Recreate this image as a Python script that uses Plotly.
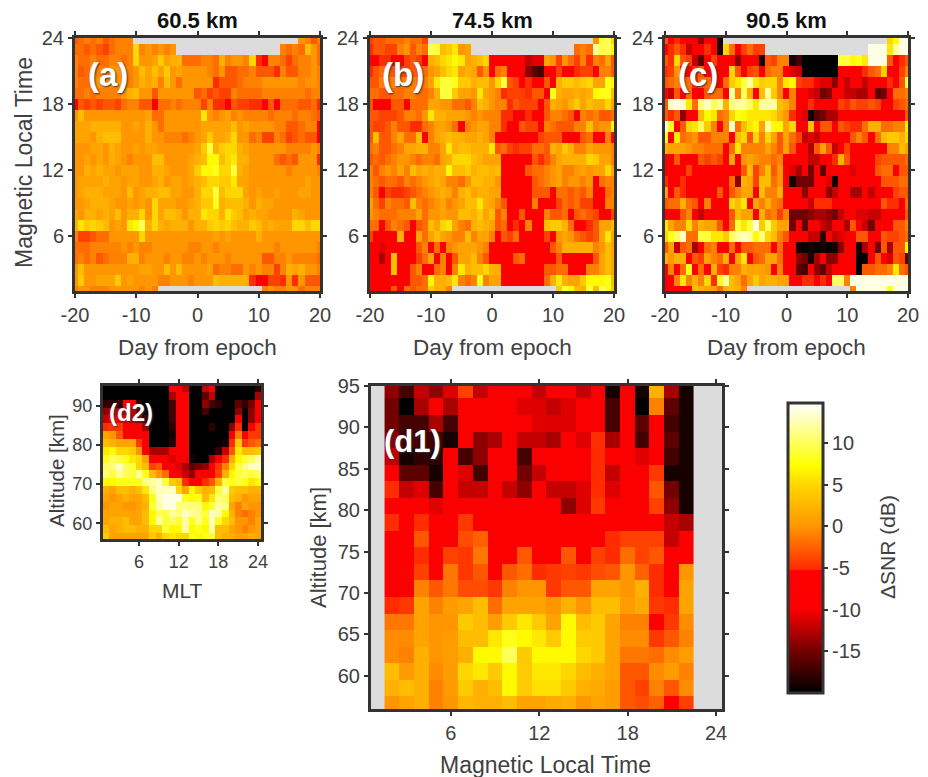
import plotly.graph_objects as go

W, H = 928, 777
days = list(range(-20, 21))
mlt_top = list(range(24, 0, -1))
N = None
a = [
[-3,-2,-1,-2,-1,-3,-2,-1,-1,-1]+[N]*27+[0,-1,-3,-1],
[-2,-2,-3,-2,-3,-4,-2,-1,-1,-1,5,-1,0,-1,0,-1,0]+[N]*17+[-1,-2,-1,-2,3,0,-2],
[-1,-2,-2,-1,-2,-2,-1,-1,-2,-1,5,0,0,1,4,1,2,2,-2,-2,-2,-1,-1,-2,2,-1,0,0,-1,5,-5,-7,-1,-1,-2,-4,-2,-1,-1,0,-2],
[-1,-3,-2,0,-1,-1,0,0,-1,-1,0,3,1,3,1,4,0,1,0,0,0,0,-1,-2,0,-3,-3,-2,-2,-1,-3,-3,-3,-5,-1,-3,-3,-1,-1,0,-1],
[-1,-2,-2,0,0,0,0,0,-1,-1,0,2,1,2,-1,3,0,-2,0,0,0,0,0,-5,-3,-3,-3,-2,-1,-1,-1,0,0,0,0,0,0,-1,0,0,-1],
[-2,-2,-1,-2,-1,-1,-1,-1,0,2,3,0,0,-3,0,0,0,0,0,0,-3,-2,-4,-3,-4,-4,-1,-2,-2,-2,-2,-1,-1,-1,-1,-1,-1,-1,-2,-1,-1],
[-8,-3,-4,-3,-4,-3,-3,-4,-2,-1,-1,-3,-3,-8,-2,-2,-1,-2,-1,-1,-1,-4,-1,-5,-5,-8,-3,-4,-4,-5,-5,-8,-3,-8,-2,-2,-2,-3,-3,-2,-5],
[0,3,0,0,0,0,0,0,0,0,0,0,1,-2,-2,0,0,0,0,0,0,6,0,-1,0,1,-1,0,-1,-1,-1,-1,-2,-1,-1,-1,-2,-1,-1,-2,-3],
[1,1,1,2,2,2,2,2,0,0,1,0,2,0,-2,0,0,0,0,0,0,1,1,1,1,1,3,0,1,0,0,0,0,-1,-1,-3,-3,-2,-1,-1,-8],
[1,1,1,0,2,3,3,3,0,0,0,0,2,0,0,-1,-1,-1,-2,-1,0,1,4,1,1,2,5,0,0,-2,-1,-4,-4,-1,-2,-4,-3,-2,-3,-3,-8],
[0,0,0,1,1,0,2,1,0,0,1,0,1,1,0,0,0,0,0,0,1,4,9,2,4,5,5,2,1,0,0,0,0,0,0,-1,-1,-1,-1,0,-1],
[0,0,1,0,1,0,2,1,0,-1,0,0,0,3,3,0,0,0,0,1,2,3,7,7,3,5,6,2,2,0,0,0,0,-2,-3,-2,-3,0,0,0,-5],
[0,0,2,1,2,1,1,0,1,1,1,0,0,2,2,1,0,0,0,1,4,7,7,8,5,5,9,2,1,0,0,0,0,0,0,-1,0,0,0,0,-1],
[0,1,1,1,1,2,1,1,0,1,1,0,0,1,2,0,1,1,0,1,2,3,5,5,4,4,6,1,1,0,0,0,0,0,0,0,0,0,1,0,0],
[0,1,2,2,2,1,1,1,0,3,0,1,2,2,3,3,1,1,0,0,2,5,5,9,3,5,5,5,1,0,1,0,0,1,0,0,0,1,1,0,0],
[0,0,1,2,2,2,1,0,0,1,0,1,0,5,1,1,1,0,0,1,2,4,4,8,2,3,3,3,2,0,2,1,1,0,0,0,0,0,0,0,0],
[1,0,2,2,1,2,1,3,0,2,2,5,0,5,1,3,3,2,0,2,2,6,5,5,2,6,4,3,1,2,1,1,0,0,0,0,2,1,0,0,0],
[2,6,4,5,4,3,0,1,0,6,7,10,2,5,2,1,2,2,2,0,2,2,4,5,4,5,3,2,2,4,3,1,2,1,1,1,5,5,3,5,5],
[-1,-4,-4,-3,-2,-2,0,0,0,0,0,5,0,0,0,0,0,0,0,0,0,0,0,1,0,1,0,0,0,0,2,0,0,0,0,0,0,0,0,0,0],
[-2,-2,-2,-1,-1,-1,-1,-1,0,-1,0,-1,-1,0,0,0,0,0,0,-1,-1,0,0,-1,0,0,0,0,0,0,0,0,0,-1,0,0,0,0,0,0,-1],
[-2,-1,-2,-1,-3,-2,-1,-1,-1,2,2,-1,0,0,0,-1,0,0,-1,-1,0,-1,0,0,0,-1,0,0,0,0,0,-3,-3,-1,-1,0,-1,-1,-1,-1,-2],
[0,3,0,0,0,0,0,0,0,0,0,1,1,0,0,3,0,3,0,0,0,0,1,-2,-1,-1,-2,-2,0,-1,0,-1,-1,-4,-1,2,1,2,0,0,-1],
[0,4,0,0,1,1,1,4,0,1,0,0,0,0,-1,-1,0,0,0,-1,0,0,0,3,2,2,2,2,2,-5,-8,-8,-4,-4,-5,0,-5,0,-3,-3,-3],
[-1,0,0,-1,-1,-1,0,0,0,0,0,-1,0,-1]+[N]*17+[-1,0,-1,-1,0,0,-2,-1,-1,-1],
]
b = [
[-4,-3,-3,-2,-2,-2,-1,-2,-2,-4]+[N]*27+[0,9,10,5],
[-5,-3,-3,-4,-4,-1,0,-3,-1,-2,10,9,3,4,6,0,1]+[N]*17+[-2,-1,-2,12,9,10,7],
[-8,-8,-5,-5,-8,-8,-4,-3,-4,-8,2,3,5,6,7,6,1,2,3,5,-8,-8,-8,-8,-8,-10,-12,-11,-11,1,0,-4,0,-2,-4,-1,-5,-1,-2,1,-3],
[-5,-3,-2,-2,-3,-4,-4,-3,-3,-2,0,1,3,5,6,1,2,1,-3,0,-8,-2,-1,-8,-8,-8,-14,-16,-17,-8,-8,-4,-8,-8,-5,-4,-4,-8,-1,-1,-3],
[-3,-3,-1,-1,-1,-1,-1,-1,-2,-1,1,6,9,9,8,4,4,2,3,3,0,5,9,-3,-4,-8,-5,-8,-8,-3,-8,2,4,4,3,4,5,1,1,8,7],
[-2,-2,-3,-3,-2,-2,-1,-1,-2,-2,-1,2,9,9,4,1,1,0,6,1,0,-1,-5,-4,-4,-4,-5,-3,-3,-8,8,2,1,1,2,1,2,7,8,8,3],
[-3,-8,-8,-8,-3,-3,-8,-2,-2,-2,1,1,0,0,-2,-2,-3,-1,3,2,0,-1,-1,-5,-3,-4,-4,-4,-8,-3,2,1,0,2,4,1,3,2,2,5,1],
[-3,-3,-4,-4,-4,-3,-1,-1,-2,0,6,2,2,1,1,1,0,-1,0,-1,-1,-1,-5,-5,-8,-8,-5,-8,-8,-3,-1,-1,-2,-3,-8,-1,-2,-1,-3,-3,-2],
[-3,-4,-4,-3,-1,-3,-3,-5,-5,-2,-1,1,1,0,-2,-8,-1,0,1,1,-1,-1,-5,-8,-8,-3,-4,-4,-8,-1,-2,-3,-3,-3,-1,-1,3,-1,0,0,7],
[-3,3,-3,-3,-1,1,-2,-2,3,-8,-1,1,2,3,2,2,1,1,2,1,-1,-8,-8,-8,-8,-8,-8,-8,-4,-3,-3,-3,-8,-8,-8,-3,-2,-8,-8,-1,-8],
[-2,-1,-3,-3,-2,-1,1,1,2,2,-1,-1,1,6,2,3,3,2,2,2,6,-3,-2,-4,-5,-4,-4,-2,-2,-3,2,1,4,2,-1,-1,1,0,0,0,-1],
[-3,-2,-3,-2,-1,0,0,-1,-2,-1,-1,-2,1,2,5,5,5,3,2,1,1,1,-8,-8,-8,-8,-8,-3,-5,-3,-1,1,2,2,2,2,5,4,1,1,-1],
[-1,-3,-1,0,-1,1,-1,3,1,2,1,2,2,7,3,3,4,2,3,3,2,3,-8,-8,-8,-8,-3,-2,-2,-1,0,1,-1,-1,0,1,0,1,1,5,1],
[-1,-2,-3,-2,-2,-3,-1,-2,-1,0,1,2,1,-1,-1,-2,0,3,3,2,2,0,-8,-8,-8,-8,-8,-3,-2,-1,0,1,-1,0,0,-1,0,-8,-2,-1,-1],
[-1,-3,-8,-4,-5,-5,-4,-3,-2,-1,0,1,2,1,-1,2,3,1,2,2,1,1,-8,-8,-8,-8,-8,-3,-3,-3,-8,-2,-2,-3,-2,-3,-1,-8,-8,-2,-1],
[1,-2,-4,-1,-2,-2,-3,3,-1,-2,-1,0,1,-1,0,1,3,3,6,2,1,-1,-3,-8,-8,-8,-8,-1,-8,-8,-8,-4,-2,-3,-2,-4,-4,-8,-8,-1,-1],
[0,-1,-2,-2,-2,-1,-1,-1,1,-2,0,0,1,0,0,3,3,2,4,1,3,-3,-1,-8,-8,-3,-8,-8,-8,-1,-3,-3,-2,-8,-3,-2,-3,-4,-8,-8,-4],
[-2,-2,-8,-3,-1,-2,-3,-8,-3,-2,3,1,5,6,1,-1,-2,2,3,2,1,-3,-2,-8,-5,-8,-1,-8,-8,3,4,4,2,-2,-8,-8,-5,-3,1,1,3],
[-4,-8,-8,-8,-8,2,-8,-8,1,-2,1,3,1,0,-1,-1,3,-1,1,1,-1,-8,-3,-4,-2,-10,-8,-8,-8,-4,-8,0,1,0,-2,-3,-4,-3,1,6,1],
[-8,-8,-11,-8,-8,-8,-8,-8,-3,-1,-8,-2,-8,-1,0,1,1,1,0,-1,-8,-8,-8,-8,-8,-8,-8,-8,-8,-8,-3,-1,2,2,2,2,2,-1,0,3,1],
[-8,-9,-13,-8,3,-8,-8,-8,-4,-2,1,-8,-1,-8,-3,1,1,3,-1,-3,-8,-8,-8,-8,-3,-2,-8,-8,-8,-8,-8,-3,-9,-9,-10,-9,-8,-3,1,3,1],
[-8,-8,-10,-8,3,-8,-8,-3,-1,-8,-8,-2,-1,-8,-1,6,2,3,3,5,2,2,-8,-8,-8,-8,-8,-8,-8,-3,-3,-2,-2,-8,-8,-8,-1,-1,1,3,1],
[-8,-8,-8,-8,-8,-8,-8,-3,-3,-2,7,2,2,3,6,-1,-2,-1,8,-1,1,1,-8,-9,-10,-9,-8,-8,-8,-2,2,6,2,1,1,4,7,7,7,8,3],
[-8,-8,-8,-8,-3,-8,-2,-3,-2,-2,4,2,2,-1]+[N]*17+[4,9,7,3,2,9,3,10,8,4],
]
c = [
[-3,-8,-5,-8,-8,-9,-14,-8,-8,-19]+[N]*27+[5,7,14,14],
[-8,-5,-3,-5,-12,-8,-8,-5,-8,-19,5,-2,-8,-4,-2,-4,-4]+[N]*17+[14,14,14,6,12,14,14],
[-3,-5,5,-3,-4,-12,-16,-8,-4,-9,-8,-9,-14,-8,-8,-8,-19,-3,-4,-1,-1,-19,-17,-20,-20,-20,-20,-20,-20,9,9,7,8,6,14,14,14,-3,-8,-5,-3],
[-5,-4,0,-8,-8,-5,-3,-8,-8,-8,-8,5,-3,-8,-4,-3,-8,-2,-1,-1,-8,-11,-12,-20,-20,-20,-20,-20,-20,-8,-8,-8,-8,-5,-3,-2,4,-8,-8,-4,-1],
[-3,-2,-1,-2,-2,-5,-2,-2,-8,-8,-2,4,6,9,12,6,4,5,5,-1,6,7,-4,-5,-5,-8,-11,-11,-14,-8,-12,-8,-8,-12,-8,-8,-8,-5,-8,-3,10],
[-8,-12,-3,-8,-2,-8,-8,-3,-2,-2,-8,12,-1,10,2,-8,3,12,4,-1,-8,-1,-10,-9,-11,-12,-15,-14,-8,-8,-12,-12,-13,-13,-8,-16,-15,-8,-2,-2,-1],
[-3,13,14,13,6,-2,11,13,10,12,2,11,12,12,10,6,12,12,12,3,2,-1,-8,-8,-5,-8,-8,-8,-8,-4,-5,-3,-4,-4,-3,-4,-8,-8,-4,-3,-2],
[-3,-5,-3,-14,-8,-8,3,7,6,-2,-1,5,8,7,6,6,6,6,5,2,0,-5,-10,-11,-19,-16,-15,-13,-13,-9,-8,-8,-8,-8,-8,-8,-8,-8,-8,-8,-3],
[14,8,-8,-3,5,6,10,4,-1,-8,-1,13,-2,3,6,7,1,12,7,7,1,5,-8,-8,3,-8,-3,-3,-8,-3,-4,-5,-5,-2,2,2,-2,-2,-1,-1,6],
[8,-8,6,-2,-1,0,-3,-3,-1,-1,-1,-8,3,5,-3,5,-1,5,1,-3,1,-2,-4,-12,-11,-12,-8,-8,-8,-8,-8,-3,-1,-3,-8,-2,3,4,4,2,5],
[2,1,1,1,0,-1,-1,-2,-2,-2,-8,-2,6,-1,-1,-1,-1,1,-1,-3,1,-3,-8,-8,-13,-3,1,-3,-12,-8,-4,-8,-8,-8,-8,-8,-8,-1,-1,3,1],
[-8,-8,-3,-8,-8,-8,-3,-4,-3,-4,-8,1,-8,0,1,0,-1,-1,-2,-1,-8,-8,-8,-10,-12,-12,-8,-8,-5,2,-3,-8,-8,-8,-8,-4,-3,-3,-3,-3,-2],
[-8,-8,-8,-8,-4,-8,-8,-8,-8,-8,-8,-9,-8,-3,3,-4,-1,3,-3,0,-8,-11,-13,-10,-15,-8,-16,-8,-8,-8,-8,-11,-8,-8,-8,-3,-2,-2,-8,-3,-3],
[-5,-8,-8,-5,-8,-8,-9,-9,-8,-8,-8,-2,-14,2,1,-4,3,3,-2,0,-8,-19,-15,-15,-15,-8,-8,-11,-19,-8,-8,-9,-8,-10,-10,-8,-3,-3,-3,-2,-2],
[1,-8,-3,-5,-8,-8,-8,-8,-8,-3,-8,-3,-1,1,1,-8,3,-1,-1,2,-8,-8,-10,-14,-8,-8,-10,-14,-12,-8,-10,-13,-13,-8,-12,-8,-8,-8,-4,-3,-3],
[-3,-2,-2,2,-2,-3,-8,-1,-8,-8,-8,5,3,6,-10,1,-1,2,-1,-2,-8,-8,-8,-8,-12,-5,-5,-5,-8,-8,-8,-8,-8,-8,-8,-8,-3,-5,-5,-8,-2],
[-8,-8,-8,-3,-1,-8,-12,-8,-8,-8,-8,-3,3,1,1,-8,2,-2,-1,-4,-1,-15,-15,-15,-14,-13,-13,-14,-15,-12,-8,-9,-11,-11,-12,-12,-8,-10,-8,-8,-3],
[6,1,-1,-1,5,-1,2,1,1,-3,-8,-2,9,6,9,14,4,10,4,1,1,-15,-8,-16,-8,-8,-12,-13,-10,-8,-13,-3,-8,-12,-15,-8,-8,-8,-3,-3,-1],
[5,8,10,13,-2,-2,9,9,6,6,4,10,12,13,12,7,11,5,3,-1,-3,-8,-8,-8,-12,-12,-18,-8,-12,-11,-8,-8,-3,-3,-8,-8,-3,-4,-4,-3,-2],
[-3,1,-12,-3,-2,-13,-8,-2,-1,-8,-8,-2,-8,-3,-3,-2,-2,-2,-8,-2,-8,-8,-19,-20,-19,-20,-19,-20,-19,-14,-8,-8,-19,-13,-8,-15,-3,-13,-3,-3,7],
[2,0,2,2,-8,-3,-4,1,-1,-2,2,-8,1,6,-8,-3,-2,1,1,-2,-8,-10,-14,-15,-19,-13,-8,-14,-14,-8,-8,-8,-20,-20,-8,-3,-8,-11,-3,-4,-16],
[-8,-1,-8,-2,8,-8,-2,-8,2,-4,-5,-1,-1,2,1,1,1,0,-8,-1,-8,-10,-16,-17,-8,-14,-16,-12,-8,-8,-8,-8,-20,-3,-3,-2,-2,-1,6,-2,-3],
[-8,-8,-1,6,-1,2,-1,5,-5,8,12,3,1,-2,1,4,1,2,2,1,1,-8,-8,-5,-5,-8,-5,-8,10,10,-1,14,14,14,14,14,14,14,14,14,14],
[-8,-8,-8,-8,-8,3,2,1,1,-2,2,3,2,-1]+[N]*17+[-1,14,14,14,14,14,8,14,14,14],
]
mlt_d1 = list(range(2, 23))
alt = [94.5, 92.5, 90.5, 88.5, 86.5, 84.5, 82.5, 80.5, 78.5, 76.5, 74.5, 72.5, 70.5, 68.5, 66.5, 64.5, 62.5, 60.5, 58.5, 56.5]
d1 = [
[-14,-17,-12,-14,-11,-4,-12,-9,-9,-10,-12,-8,-10,-12,-8,-19,-8,-19,2,-13,-19],
[-15,-20,-13,-9,-13,-8,-10,-8,-8,-11,-11,-12,-11,-9,-9,-17,-8,-20,-1,-16,-19],
[-15,-17,-17,-13,-17,-8,-10,-8,-8,-9,-11,-11,-11,-9,-9,-17,-8,-16,-8,-17,-19],
[-14,-17,-17,-17,-19,-9,-14,-13,-8,-12,-12,-13,-9,-11,-5,-13,-8,-17,-8,-16,-19],
[-12,-19,-18,-18,-10,-17,-14,-8,-10,-17,-10,-8,-8,-8,-5,-8,-8,-11,-8,-17,-19],
[-8,-16,-16,-19,-10,-11,-17,-8,-10,-15,-12,-8,-8,-9,-5,-12,-8,-10,-4.5,-19,-19],
[-5,-12,-11,-17,-8,-12,-12,-8,-12,-14,-8,-12,-12,-11,-5,-11,-8,-9,-3,-15,-19],
[-8,-8,-8,-11,-9,-9,-9,-9,-9,-10,-8,-10,-14,-11,-4.5,-10,-8,-8,-4,-14,-19],
[-5,-8,-5,-8,-8,-4.5,-8,-8,-8,-8,-8,-8,-8,-8,-8,-8,-8,-8,-8,-12,-13],
[-8,-8,-3,-8,-8,-3.5,-2.5,-9,-8,-8,-8,-8,-8,-8,-8,-5,-4,-4,-4,-12,-8],
[-8,-8,-5,-8,-4,-4.5,-1.5,-8,-8,-3,-8,-8,-3,-8,-4,-5,-2,-4,-3,-9,-8],
[-8,-8,-4,-8,-1.5,-4.5,-3,-8,-3,-2,-5,-4.5,-4,-4.5,-3.5,-3,0,-2.5,-5,-8,0],
[-8,-8,-1,-3,-1.5,-3.5,-3.5,-4.5,-1,0,0,-4.5,-3,-3,1,1,0,2,-5,-8,1],
[-5,-4.5,1,-1,0.5,1,3,-2,1,1,1,0,2,0,3,3,0.5,1.5,-4.5,-5,1],
[-1.5,-1.5,1,0,0,4,3,0.5,4,6,4,1,7,3,4,1,-1,-1,-8,-4.5,-0.5],
[-0.5,-0.5,1,0,0.5,3,3,6,8,7,6,4,7,4,4,1,-0.5,-0.5,-4.5,-3,-1],
[-0.5,-1,2,0,0.5,2,7,7,10,4,7,7,7,5,4,1,-1.5,-1.5,-2,-0.5,0.5],
[3,0.5,2,-0.5,0.5,5,6,4,7,4,6,6,5,3,2,1,-3,-3,-0.5,0.5,-1],
[2,3,2,-1,0.5,4,2,3,7,4,5.5,5.5,4,2,1.5,0.5,-3,-4,-1,-3,-0.5],
[0,1,2,-1,0,2.5,2,2,3,1,1,1.5,2,0,1,0.5,-3,-3.5,-2.5,-8,-4],
]
mlt_d2 = list(range(1, 25))
d2 = [
[-20,-20,-20,-20,-20,-20,-20,-20,-20,-20,-10,-10,-12,-20,-20,-12,-10,-20,-20,-20,-20,-20,-20,-18],
[-20,-20,-20,-20,-20,-20,-20,-20,-20,-20,-13,-9,-8,-20,-20,-16,-12,-20,-20,-20,-20,-20,-20,-13],
[-18,-18,-18,-10,-9,-18,-20,-20,-20,-20,-17,-8,-8,-20,-20,-14,-17,-18,-20,-20,-16,-18,-15,-8],
[-14,-12,-12,-12,-12,-16,-19,-20,-20,-20,-17,-8,-8,-20,-20,-17,-20,-20,-20,-20,-14,-20,-14,-8],
[-12,-10,-10,-10,-12,-14,-17,-20,-20,-20,-17,-8,-8,-20,-20,-20,-20,-20,-20,-20,-8,-20,-14,-8],
[-5,-4.5,-4.5,-8,-8,-8,-13,-20,-20,-20,-18,-8,-8,-20,-20,-20,-18,-20,-20,-14,-5,-20,-9,-4.5],
[1,0,-3,-8,-8,-8,-9,-20,-20,-20,-19,-8,-8,-20,-20,-20,-20,-20,-20,-10,-1,-10,-4.5,-4.5],
[3,2,1,1,1,-4.5,-8,-20,-20,-20,-18,-8,-8,-20,-20,-20,-20,-20,-19,-5,4,-4.5,-3,-2],
[6,7,5,5,4,0,-9,-13,-13,-13,-10,-8,-8,-20,-20,-20,-20,-18,-12,-3,6,3,3,4],
[8,10,9,8,6,5,1,-8,-8,-10,-11,-9,-8,-19,-20,-20,-13,-10,-5,2,7,9,10,12],
[10,11,13,10,9,5,3,-4,-3,-8,-9,-11,-13,-16,-15,-14,-9,-4.5,-1,5,9,11,13,13],
[11,9,12,10,9,12,8,3,0,-2,-8,-8,-12,-14,-9,-8,-8,-4,2,7,9,10,9,10],
[7,7,8,8,8,8,11,12,13,9,4,3,-5,-8,-8,-5,-3,2,9,8,9,8,6,7],
[2,1,3,3,2,3,6,11,13,13,13,5,1,7,4,2,3,9,12,4,3,3,2,2],
[1,0,1,2,1,1,3,8,13,14,14,14,8,7,8,3,6,11,10,3,2,0,1,1],
[0,1,1,0,0,1,2,9,12,14,14,11,11,11,11,7,9,12,11,1,-1,1,0,0],
[1,1,1,1,1,1,3,7,10,9,12,11,13,12,11,9,13,12,7,2,-1,-2,-1,0],
[1,2,2,3,1,1,3,7,12,9,10,9,12,8,11,8,13,8,5,3,0,0,-1,1],
[3,1,2,3,3,2,2,5,5,9,7,7,12,7,8,7,12,3,3,1,0,-1,0,1],
[4,1,1,1,1,1,1,4,2,5,6,5,5,8,7,8,9,3,2,2,1,1,2,1],
]
titles = ["60.5 km", "74.5 km", "90.5 km"]
cbar_ticks = [-15, -10, -5, 0, 5, 10]

CMIN, CMAX = -20, 14.8
def st(v): return (v - CMIN) / (CMAX - CMIN)
cscale = [[st(-20),"rgb(0,0,0)"],[st(-15),"rgb(115,0,0)"],[st(-10),"rgb(250,0,0)"],[st(-5.3),"rgb(255,0,0)"],[st(-5.2),"rgb(255,40,0)"],
          [st(0),"rgb(255,150,0)"],[st(5),"rgb(255,215,0)"],[st(7.3),"rgb(255,255,0)"],[st(10),"rgb(255,255,92)"],[st(14.8),"rgb(255,255,255)"]]

FONT = "Liberation Sans"
TICKC = "#404040"
FRAME = "#333333"
def xd(a_,b_): return [a_/W, b_/W]
def yd(t,b_): return [1-b_/H, 1-t/H]

boxes = {"a":(75,320,38,291), "b":(370,614,38,291), "c":(665,908,38,291),
         "d1":(371,722,386,709), "d2":(103,261,386,539)}
fig = go.Figure()
for i,z in enumerate([a,b,c],1):
    fig.add_trace(go.Heatmap(x=days,y=mlt_top,z=z,coloraxis="coloraxis",xaxis=f"x{i}",yaxis=f"y{i}",hoverongaps=False))
fig.add_trace(go.Heatmap(x=mlt_d1,y=alt,z=d1,coloraxis="coloraxis",xaxis="x4",yaxis="y4"))
fig.add_trace(go.Heatmap(x=mlt_d2,y=alt,z=d2,coloraxis="coloraxis",xaxis="x5",yaxis="y5"))

def ax(size=20):
    return dict(showline=True,linewidth=3,linecolor=FRAME,mirror="allticks",ticks="outside",ticklen=4,tickwidth=2,tickcolor=FRAME,
                showgrid=False,zeroline=False,tickfont=dict(family=FONT,size=size,color=TICKC))
lay = dict(width=W,height=H,margin=dict(l=0,r=0,t=0,b=0,autoexpand=False),paper_bgcolor="white",plot_bgcolor="#dcdcdc",showlegend=False,
  coloraxis=dict(cmin=CMIN,cmax=CMAX,colorscale=cscale,colorbar=dict(
     x=788/W,xanchor="left",y=1-403/H,yanchor="top",lenmode="pixels",len=290,thicknessmode="pixels",thickness=35,
     outlinewidth=3,outlinecolor=FRAME,ticks="outside",ticklen=4,tickwidth=2,tickcolor=FRAME,
     tickvals=cbar_ticks,ticktext=[str(v) for v in cbar_ticks],xpad=0,ypad=0,
     tickfont=dict(family=FONT,size=20,color=TICKC))))
day_ticks=[-20,-10,0,10,20]
for i,k in enumerate(["a","b","c"],1):
    l,r,t,bt = boxes[k]
    lay[f"xaxis{i}"]=dict(domain=xd(l,r),anchor=f"y{i}",range=[-20,20],tickvals=day_ticks,ticktext=[str(v) for v in day_ticks],**ax())
    lay[f"yaxis{i}"]=dict(domain=yd(t,bt),anchor=f"x{i}",range=[1,24],tickvals=[6,12,18,24],**ax())
l,r,t,bt = boxes["d1"]
lay["xaxis4"]=dict(domain=xd(l,r),anchor="y4",range=[0.58,24.4],tickvals=[6,12,18,24],**ax())
lay["yaxis4"]=dict(domain=yd(t,bt),anchor="x4",range=[56,95],tickvals=[60,65,70,75,80,85,90,95],**ax())
l,r,t,bt = boxes["d2"]
lay["xaxis5"]=dict(domain=xd(l,r),anchor="y5",range=[0.55,24.45],tickvals=[6,12,18,24],**ax(18))
lay["yaxis5"]=dict(domain=yd(t,bt),anchor="x5",range=[56,95],tickvals=[60,70,80,90],**ax(18))
fig.update_layout(**lay)

def note(x,y,text,size=20,color=TICKC,bold=False,angle=0,shadow=None):
    f=dict(family=FONT,size=size,color=color)
    if shadow: f["shadow"]=shadow
    fig.add_annotation(xref="paper",yref="paper",x=x/W,y=1-y/H,text=f"<b>{text}</b>" if bold else text,showarrow=False,font=f,textangle=angle,xanchor="center",yanchor="middle")
for k,t in zip("abc",titles):
    l,r,_,_=boxes[k]
    note((l+r)/2,20,t,size=22,color="#111111",bold=True)
    note((l+r)/2,347,"Day from epoch",size=22.5)
note(24,163,"Magnetic Local Time",size=23,angle=-90)
note(56,471,"Altitude [km]",size=20.5,angle=-90)
note(182,590,"MLT",size=21)
note(318,548,"Altitude [km]",size=22,angle=-90)
note(545,765,"Magnetic Local Time",size=23)
note(887,547,"ΔSNR (dB)",size=21,angle=-90)
for x,y,t,s in [(108,74,"(a)",33),(403,74,"(b)",33),(698,74,"(c)",33),(412,441,"(d1)",31),(131,412,"(d2)",24)]:
    note(x,y,t,size=s,color="white",bold=True,shadow="1px 1px 2px #333")
fig.write_html("out.html",config={"displayModeBar":False},post_script="document.body.style.margin='0';")
